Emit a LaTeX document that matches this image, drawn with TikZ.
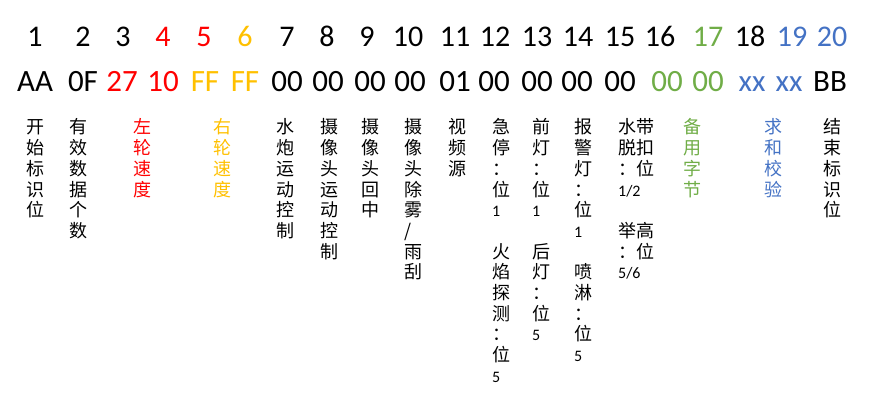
\documentclass[tikz,border=0pt]{standalone}
\usepackage{fontspec}
\setmainfont{Carlito}
\newfontfamily\cjk{Noto Sans CJK SC}
\newfontfamily\latf{Carlito}
\definecolor{cred}{RGB}{255,0,0}
\definecolor{corange}{RGB}{255,192,0}
\definecolor{cgreen}{RGB}{112,173,71}
\definecolor{cblue}{RGB}{68,114,196}
\newcommand{\dg}[1]{{\latf\fontsize{16}{20.67}\selectfont #1}}
\newcommand{\vcol}[1]{\vtop{\baselineskip=20.67pt\lineskiplimit=-20pt\halign{##\hfil\cr #1\crcr}}}
\begin{document}
\begin{tikzpicture}[x=1pt,y=-1pt,
  num/.style={font=\fontsize{30}{30}\selectfont, inner sep=0pt, anchor=base},
  hex/.style={font=\fontsize{31}{31}\selectfont, inner sep=0pt, anchor=base},
  lbl/.style={font=\fontsize{18}{20.67}\selectfont\cjk, inner sep=0pt, anchor=base west}]
\useasboundingbox (0,0) rectangle (880,409);
% index row
\node[num] (n1) at (35,47) {1};
\node[num] (n2) at (83,47) {2};
\node[num] (n3) at (123,47) {3};
\node[num,text=cred] (n4) at (163,47) {4};
\node[num,text=cred] (n5) at (204,47) {5};
\node[num,text=corange] (n6) at (245,47) {6};
\node[num] (n7) at (287,47) {7};
\node[num] (n8) at (327,47) {8};
\node[num] (n9) at (367,47) {9};
\node[num] (n10) at (408,47) {10};
\node[num] (n11) at (455,47) {11};
\node[num] (n12) at (495,47) {12};
\node[num] (n13) at (537,47) {13};
\node[num] (n14) at (578,47) {14};
\node[num] (n15) at (620,47) {15};
\node[num] (n16) at (660,47) {16};
\node[num,text=cgreen] (n17) at (708,47) {17};
\node[num] (n18) at (750,47) {18};
\node[num,text=cblue] (n19) at (792,47) {19};
\node[num,text=cblue] (n20) at (832,47) {20};
% hex row
\node[hex] (h1) at (35,92) {AA};
\node[hex] (h2) at (83,92) {0F};
\node[hex,text=cred] (h3) at (122,92) {27};
\node[hex,text=cred] (h4) at (163,92) {10};
\node[hex,text=corange] (h5) at (205,92) {FF};
\node[hex,text=corange] (h6) at (245,92) {FF};
\node[hex] (h7) at (287,92) {00};
\node[hex] (h8) at (328,92) {00};
\node[hex] (h9) at (370,92) {00};
\node[hex] (h10) at (410,92) {00};
\node[hex] (h11) at (455,92) {01};
\node[hex] (h12) at (494,92) {00};
\node[hex] (h13) at (537,92) {00};
\node[hex] (h14) at (577,92) {00};
\node[hex] (h15) at (620,92) {00};
\node[hex,text=cgreen] (h16) at (667,92) {00};
\node[hex,text=cgreen] (h17) at (708,92) {00};
\node[hex,text=cblue] (h18) at (752,92) {xx};
\node[hex,text=cblue] (h19) at (789,92) {xx};
\node[hex] (h20) at (830,92) {BB};
% labels
\node[lbl] (l1) at (26,134) {\vcol{开\cr 始\cr 标\cr 识\cr 位}};
\node[lbl] (l2) at (69,134) {\vcol{有\cr 效\cr 数\cr 据\cr 个\cr 数}};
\node[lbl,text=cred] (l3) at (133,134) {\vcol{左\cr 轮\cr 速\cr 度}};
\node[lbl,text=corange] (l4) at (213,134) {\vcol{右\cr 轮\cr 速\cr 度}};
\node[lbl] (l5) at (276,134) {\vcol{水\cr 炮\cr 运\cr 动\cr 控\cr 制}};
\node[lbl] (l6) at (320,134) {\vcol{摄\cr 像\cr 头\cr 运\cr 动\cr 控\cr 制}};
\node[lbl] (l7) at (361,134) {\vcol{摄\cr 像\cr 头\cr 回\cr 中}};
\node[lbl] (l8) at (404,134) {\vcol{摄\cr 像\cr 头\cr 除\cr 雾\cr /\cr 雨\cr 刮}};
\node[lbl] (l9) at (448,134) {\vcol{视\cr 频\cr 源}};
\node[lbl] (l10) at (492,134) {\vcol{急\cr 停\cr ：\cr 位\cr \dg{1}\cr\cr 火\cr 焰\cr 探\cr 测\cr ：\cr 位\cr \dg{5}}};
\node[lbl] (l11) at (532,134) {\vcol{前\cr 灯\cr ：\cr 位\cr \dg{1}\cr\cr 后\cr 灯\cr ：\cr 位\cr \dg{5}}};
\node[lbl] (l12) at (574,134) {\vcol{报\cr 警\cr 灯\cr ：\cr 位\cr \dg{1}\cr\cr 喷\cr 淋\cr ：\cr 位\cr \dg{5}}};
\node[lbl] (l13) at (618,134) {\vcol{水带\cr 脱扣\cr ：位\cr \dg{1/2}\cr\cr 举高\cr ：位\cr \dg{5/6}}};
\node[lbl,text=cgreen] (l14) at (683,134) {\vcol{备\cr 用\cr 字\cr 节}};
\node[lbl,text=cblue] (l15) at (764,134) {\vcol{求\cr 和\cr 校\cr 验}};
\node[lbl] (l16) at (823,134) {\vcol{结\cr 束\cr 标\cr 识\cr 位}};
\end{tikzpicture}
\end{document}
